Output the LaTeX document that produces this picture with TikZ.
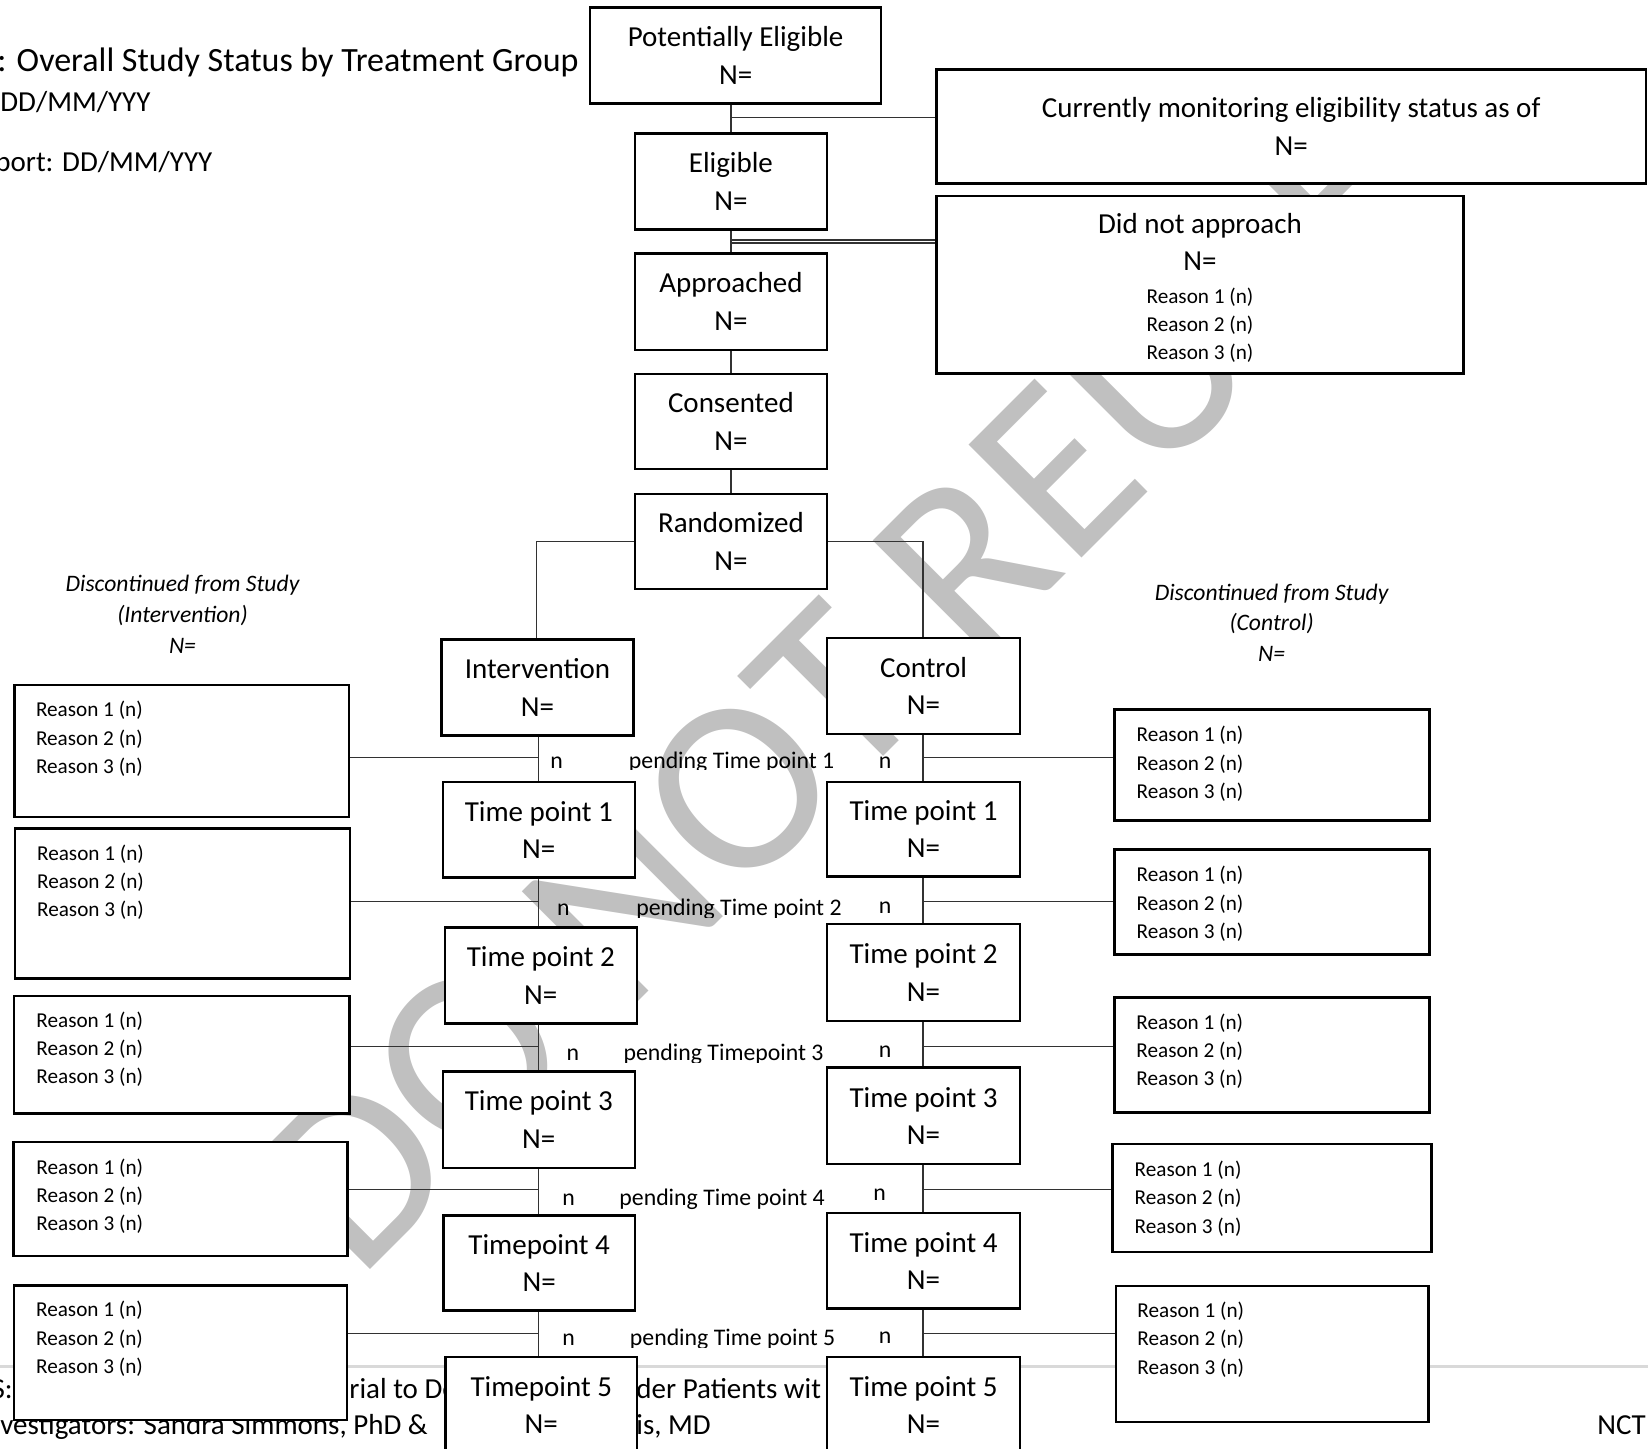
\documentclass[tikz,border=0pt]{standalone}
\usepackage{fontspec}
\setmainfont{Carlito}
\definecolor{wm}{RGB}{192,192,192}
\definecolor{ln}{RGB}{50,50,50}
\definecolor{rule}{RGB}{217,217,217}
\newcommand\fmain{\fontsize{14.5}{18.75}\selectfont}
\newcommand\fres{\fontsize{10.6}{14.15}\selectfont}
\newcommand\fital{\fontsize{11.8}{15.4}\selectfont\itshape}
\newcommand\fpend{\fontsize{11.9}{14}\selectfont}
\newcommand\ftitle{\fontsize{17}{20}\selectfont}
\newcommand\reasons{\parbox[t]{90pt}{\fres Reason 1 (n)\\Reason 2 (n)\\Reason 3 (n)}}
\tikzset{
 mbox/.style={draw=black, line width=1.2pt, fill=white, inner sep=0pt, align=center, font=\fmain},
 rbox/.style={draw=black, line width=1.2pt, fill=white, inner sep=0pt},
 conn/.style={draw=ln, line width=0.65pt},
 rtxt/.style={anchor=base west, inner sep=0pt},
 ptxt/.style={anchor=base west, inner sep=0pt, font=\fpend},
 ntxt/.style={anchor=base, inner sep=0pt, font=\fpend},
 ftxt/.style={anchor=base west, inner sep=0pt, font=\fmain},
}
\newcommand\mb[6]{\node[mbox, minimum width={(#4-#2)*0.5pt}, minimum height={(#5-#3)*0.5pt}] (#1) at ({(#2+#4)/2},{(#3+#5)/2}) {#6};}
\newcommand\rb[5]{\node[rbox, minimum width={(#4-#2)*0.5pt}, minimum height={(#5-#3)*0.5pt}] (#1) at ({(#2+#4)/2},{(#3+#5)/2}) {};}
\begin{document}
\begin{tikzpicture}[x=0.5pt,y=-0.5pt]
\useasboundingbox (0,0) rectangle (1648,1448);
\clip (0,0) rectangle (1648,1448);
% watermark
\node[anchor=base west, rotate=45, inner sep=0pt, text=wm, font=\fontsize{124.5}{124.5}\selectfont] (wmk) at (358,1282) {DO NOT REUSE};
% footer
\coordinate (fl) at (0,1366.5);
\coordinate (fr) at (1648,1366.5);
\draw[rule, line width=1.5pt] (fl) -- (fr);
\node[anchor=base east, inner sep=0pt, font=\fmain] (f1) at (13,1398) {S:};
\node[ftxt] (f2) at (349,1398) {rial to De};
\node[ftxt] (f3) at (636,1398) {der Patients wit};
\node[ftxt] (f4) at (0,1434) {vestigators: Sandra Simmons, PhD \&};
\node[ftxt] (f5) at (636,1434) {is, MD};
\node[ftxt] (f6) at (1597,1434) {NCT};
% title
\node[anchor=base west, inner sep=0pt, font=\ftitle] (t1) at (-3,71.5) {: Overall Study Status by Treatment Group};
\node[ftxt] (t2) at (0,111.7) {DD/MM/YYY};
\node[ftxt] (t3) at (-5,171.5) {port: DD/MM/YYY};
% coordinates
\coordinate (mcol) at (731,0);
\coordinate (icol) at (538.5,0);
\coordinate (ccol) at (923,0);
\coordinate (r0) at (0,117.3);
\coordinate (r0a) at (0,240);
\coordinate (r0b) at (0,243);
\coordinate (ia) at (536.6,541.6);
\coordinate (ca) at (923,541.6);
\coordinate (row1) at (0,757.3);
\coordinate (row2) at (0,901.7);
\coordinate (row3) at (0,1046.2);
\coordinate (row4) at (0,1189.2);
\coordinate (row5) at (0,1333.7);
% boxes
\mb{pe}{590.2}{7.3}{881}{103.3}{Potentially Eligible\\N=}
\mb{cm}{936.3}{69.3}{1646}{183.3}{Currently monitoring eligibility status as of\\N=}
\mb{elig}{634.7}{133.3}{827.1}{229.5}{Eligible\\N=}
\rb{dna}{936.3}{195.7}{1463.5}{373.3}
\mb{appr}{634.7}{253.3}{827.1}{350}{Approached\\N=}
\mb{cons}{634.7}{374.2}{827.1}{468.7}{Consented\\N=}
\mb{rand}{634.7}{494}{827.1}{589}{Randomized\\N=}
\mb{int}{441.3}{639.5}{633.6}{735.3}{Intervention\\N=}
\mb{ctl}{827.1}{638}{1020}{734}{Control\\N=}
\mb{itp1}{442.7}{782.2}{634.9}{877.5}{Time point 1\\N=}
\mb{itp2}{444.7}{927.4}{636.9}{1023.5}{Time point 2\\N=}
\mb{itp3}{442.7}{1071.5}{634.9}{1167.8}{Time point 3\\N=}
\mb{itp4}{443.5}{1215.4}{634.9}{1310.6}{Timepoint 4\\N=}
\mb{itp5}{445.6}{1357}{637}{1453}{Timepoint 5\\N=}
\mb{ctp1}{827.1}{782}{1020}{876.5}{Time point 1\\N=}
\mb{ctp2}{827.1}{924}{1020}{1021}{Time point 2\\N=}
\mb{ctp3}{827.1}{1067.6}{1020}{1164}{Time point 3\\N=}
\mb{ctp4}{827.1}{1213.2}{1020}{1308.5}{Time point 4\\N=}
\mb{ctp5}{827.1}{1357}{1020}{1453}{Time point 5\\N=}
\rb{L1}{14.4}{685}{349}{817}
\rb{L2}{15}{828.3}{350}{978.3}
\rb{L3}{14}{995.7}{349.3}{1113.3}
\rb{L4}{13.3}{1141.7}{347.3}{1255.7}
\rb{L5}{13.7}{1285.4}{347}{1420}
\rb{R1}{1114.4}{709.3}{1429.6}{820.5}
\rb{R2}{1114.4}{849.3}{1429.6}{954.3}
\rb{R3}{1114.4}{997.3}{1429.6}{1112.5}
\rb{R4}{1112.6}{1144}{1431.4}{1251.7}
\rb{R5}{1115.9}{1285.7}{1428.6}{1421.7}
% DNA text
\node[anchor=base, inner sep=0pt] (dnat) at (1200,233.3) {\parbox[t]{200pt}{\centering\fmain Did not approach\\N=}};
\node[anchor=base, inner sep=0pt] (dnar) at (1200,303.3) {\parbox[t]{100pt}{\centering\fres Reason 1 (n)\\Reason 2 (n)\\Reason 3 (n)}};
% reason texts
\node[rtxt] (L1t) at (35.6,716.7) {\reasons};
\node[rtxt] (L2t) at (36.7,860) {\reasons};
\node[rtxt] (L3t) at (36,1027) {\reasons};
\node[rtxt] (L4t) at (36,1174) {\reasons};
\node[rtxt] (L5t) at (35.7,1316.7) {\reasons};
\node[rtxt] (R1t) at (1136.2,741.7) {\reasons};
\node[rtxt] (R2t) at (1136.2,881.7) {\reasons};
\node[rtxt] (R3t) at (1136,1029.3) {\reasons};
\node[rtxt] (R4t) at (1134.3,1176.5) {\reasons};
\node[rtxt] (R5t) at (1137,1317.5) {\reasons};
% discontinued labels
\node[anchor=base, inner sep=0pt] (dl) at (182.5,591.7) {\parbox[t]{200pt}{\centering\fital Discontinued from Study\\(Intervention)\\N=}};
\node[anchor=base, inner sep=0pt] (dr) at (1271.6,600) {\parbox[t]{200pt}{\centering\fital Discontinued from Study\\(Control)\\N=}};
% connectors
\draw[conn] (mcol |- pe.south) -- (mcol |- elig.north);
\draw[conn] (mcol |- r0) -- (cm.west |- r0);
\draw[conn] (mcol |- elig.south) -- (mcol |- appr.north);
\draw[conn] (mcol |- r0a) -- (dna.west |- r0a);
\draw[conn] (mcol |- r0b) -- (dna.west |- r0b);
\draw[conn] (mcol |- appr.south) -- (mcol |- cons.north);
\draw[conn] (mcol |- cons.south) -- (mcol |- rand.north);
\draw[conn] (rand.west |- ia) -- (ia) -- (ia |- int.north);
\draw[conn] (rand.east |- ca) -- (ca) -- (ca |- ctl.north);
\draw[conn] (icol |- int.south) -- (icol |- itp1.north);
\draw[conn] (icol |- itp1.south) -- (icol |- itp2.north);
\draw[conn] (icol |- itp2.south) -- (icol |- itp3.north);
\draw[conn] (icol |- itp3.south) -- (icol |- itp4.north);
\draw[conn] (icol |- itp4.south) -- (icol |- itp5.north);
\draw[conn] (ccol |- ctl.south) -- (ccol |- ctp1.north);
\draw[conn] (ccol |- ctp1.south) -- (ccol |- ctp2.north);
\draw[conn] (ccol |- ctp2.south) -- (ccol |- ctp3.north);
\draw[conn] (ccol |- ctp3.south) -- (ccol |- ctp4.north);
\draw[conn] (ccol |- ctp4.south) -- (ccol |- ctp5.north);
\draw[conn] (L1.east |- row1) -- (icol |- row1);
\draw[conn] (L2.east |- row2) -- (icol |- row2);
\draw[conn] (L3.east |- row3) -- (icol |- row3);
\draw[conn] (L4.east |- row4) -- (icol |- row4);
\draw[conn] (L5.east |- row5) -- (icol |- row5);
\draw[conn] (ccol |- row1) -- (R1.west |- row1);
\draw[conn] (ccol |- row2) -- (R2.west |- row2);
\draw[conn] (ccol |- row3) -- (R3.west |- row3);
\draw[conn] (ccol |- row4) -- (R4.west |- row4);
\draw[conn] (ccol |- row5) -- (R5.west |- row5);
% row labels
\node[ntxt] (n1l) at (556.5,768) {n};
\node[ntxt] (n1r) at (885,768) {n};
\node[ntxt] (n2l) at (563.3,915.5) {n};
\node[ntxt] (n2r) at (885,913.5) {n};
\node[ntxt] (n3l) at (572.8,1060.5) {n};
\node[ntxt] (n3r) at (885,1057.5) {n};
\node[ntxt] (n4l) at (568.6,1205.8) {n};
\node[ntxt] (n4r) at (879.7,1200.5) {n};
\node[ntxt] (n5l) at (568.6,1345.5) {n};
\node[ntxt] (n5r) at (885,1343.4) {n};
\begin{scope}
\clip (600,700) rectangle (860,769.5);
\node[ptxt] (p1) at (628.5,768) {pending Time point 1};
\end{scope}
\begin{scope}
\clip (600,880) rectangle (860,917);
\node[ptxt] (p2) at (635.9,915.5) {pending Time point 2};
\end{scope}
\begin{scope}
\clip (600,1020) rectangle (860,1062);
\node[ptxt] (p3) at (623.2,1060.5) {pending Timepoint 3};
\end{scope}
\node[ptxt] (p4) at (619,1205.8) {pending Time point 4};
\begin{scope}
\clip (600,1310) rectangle (860,1347);
\node[ptxt] (p5) at (629.5,1345.5) {pending Time point 5};
\end{scope}
\end{tikzpicture}
\end{document}
